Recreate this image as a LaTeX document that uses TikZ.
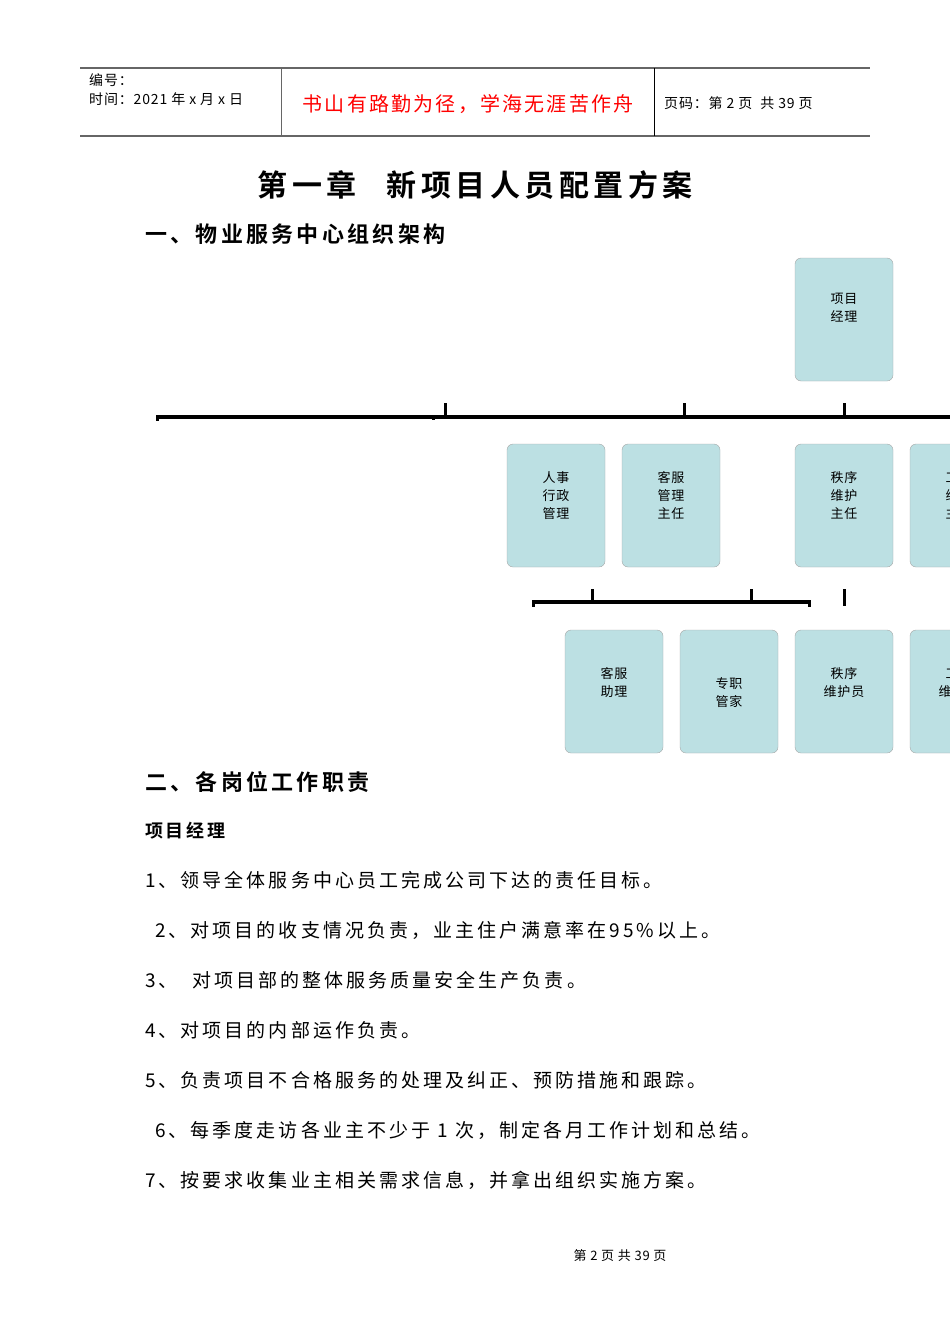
\documentclass[tikz,border=0pt]{standalone}
\usepackage{fontspec}
\setmainfont{Noto Sans CJK SC}
\newfontfamily\cjkb[LetterSpace=15]{Noto Sans CJK SC Bold}
\newfontfamily\cjks[LetterSpace=16]{Noto Sans CJK SC}
\newfontfamily\cjkr[LetterSpace=11]{Noto Sans CJK SC}
\newfontfamily\cjkh[LetterSpace=6]{Noto Sans CJK SC}
\definecolor{boxc}{HTML}{BCE0E3}
\tikzset{x=1pt,y=-1pt,
 org/.style={draw=gray!70,fill=boxc,rounded corners=6pt},
 btxt/.style={font=\cjkh\fontsize{13}{18}\selectfont,align=center,anchor=north},
 body/.style={font=\cjks\fontsize{19}{22}\selectfont,anchor=west,inner sep=0},
 bar/.style={line width=3.5pt},
 tick/.style={line width=3pt}}
\begin{document}
\begin{tikzpicture}
\useasboundingbox (0,0) rectangle (950,1344);
\clip (0,0) rectangle (950,1344);
% header
\draw[gray!80!black,line width=1.2pt] (80,68) -- (870,68);
\draw[gray!80!black,line width=1.2pt] (80,136) -- (870,136);
\draw[gray!80!black,line width=0.8pt] (281,68) -- (281,136);
\draw[black,line width=0.8pt] (654,68) -- (654,136);
\node[anchor=west,inner sep=0,font=\cjkh\fontsize{14}{16}\selectfont] (h1) at (89,80) {编号：};
\node[anchor=west,inner sep=0,font=\cjkh\fontsize{14}{16}\selectfont] (h2) at (89,99) {时间：2021 年 x 月 x 日};
\node[inner sep=0,text=red,font=\cjkr\fontsize{20}{22}\selectfont] (h3) at (468,104) {书山有路勤为径，学海无涯苦作舟};
\node[anchor=west,inner sep=0,font=\cjkh\fontsize{14}{16}\selectfont] (h4) at (664,103) {页码：第 2 页\ \ 共 39 页};
% titles
\node[inner sep=0,font=\cjkb\fontsize{30}{32}\selectfont] (t) at (475,185) {第一章\quad 新项目人员配置方案};
\node[anchor=west,inner sep=0,font=\cjkb\fontsize{22}{24}\selectfont] (s1) at (145,234) {一、物业服务中心组织架构};
% org chart
\draw[org] (795,258) rectangle (893,381);
\node[btxt] (pm) at (844,290) {项目\\经理};
\draw[bar] (157,417) -- (955,417);
\draw[tick] (157,415) -- (157,421);
\draw[tick] (433,415) -- (433,420);
\foreach \x in {445,684,844} \draw[tick] (\x,403) -- (\x,417);
\foreach \x/\t in {507/人事\\行政\\管理,622/客服\\管理\\主任,795/秩序\\维护\\主任,910/工程\\维修\\主任}{
 \draw[org] (\x,444) rectangle ++(98,123);
 \node[btxt] at (\x+49,468) {\t};}
\draw[bar] (533,602) -- (809,602);
\draw[tick] (533,600) -- (533,607);
\draw[tick] (809,600) -- (809,607);
\foreach \x in {592,751} \draw[tick] (\x,589) -- (\x,602);
\draw[tick] (844,589) -- (844,606);
\foreach \x/\t/\y in {565/客服\\助理/664,680/专职\\管家/674,795/秩序\\维护员/664,910/工程\\维修员/664}{
 \draw[org] (\x,630) rectangle ++(98,123);
 \node[btxt] at (\x+49,\y) {\t};}
% duties
\node[anchor=west,inner sep=0,font=\cjkb\fontsize{22}{24}\selectfont] (s2) at (145,782) {二、各岗位工作职责};
\node[anchor=west,inner sep=0,font=\cjkb\fontsize{18}{20}\selectfont] (s3) at (145,831) {项目经理};
\node[body] (l1) at (145,880) {1、领导全体服务中心员工完成公司下达的责任目标。};
\node[body] (l2) at (155,930) {2、对项目的收支情况负责，业主住户满意率在95\%以上。};
\node[body] (l3) at (145,980) {3、\ \ 对项目部的整体服务质量安全生产负责。};
\node[body] (l4) at (145,1030) {4、对项目的内部运作负责。};
\node[body] (l5) at (145,1080) {5、负责项目不合格服务的处理及纠正、预防措施和跟踪。};
\node[body] (l6) at (155,1130) {6、每季度走访各业主不少于 1 次，制定各月工作计划和总结。};
\node[body] (l7) at (145,1180) {7、按要求收集业主相关需求信息，并拿出组织实施方案。};
\node[inner sep=0,font=\cjkh\fontsize{13}{15}\selectfont] (f) at (620,1256) {第 2 页 共 39 页};
\end{tikzpicture}
\end{document}
